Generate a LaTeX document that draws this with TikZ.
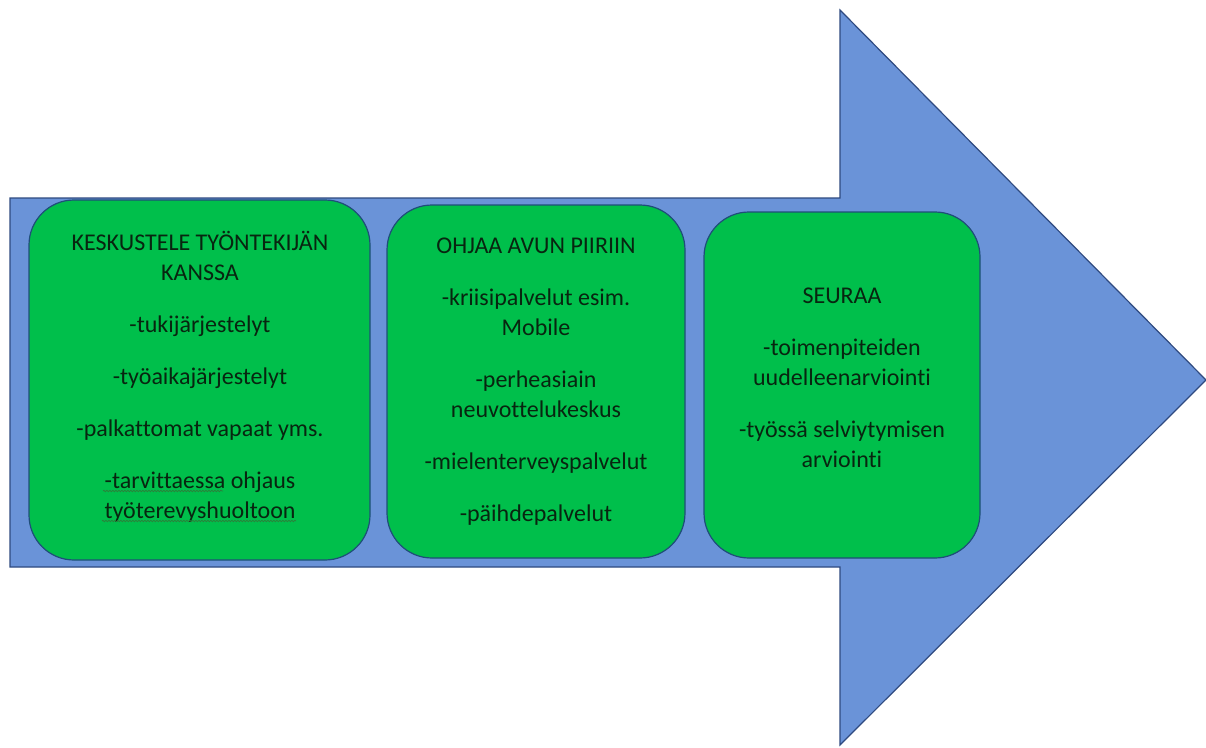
\documentclass[tikz,border=0pt]{standalone}
\usepackage{fontspec}
\setmainfont[Ligatures=NoCommon]{Carlito}
\usetikzlibrary{decorations.pathmorphing}
\definecolor{arrowfill}{HTML}{6A93D8}
\definecolor{arrowline}{HTML}{2F4A80}
\definecolor{boxfill}{HTML}{00BF4B}
\definecolor{boxline}{HTML}{1F4E79}
\definecolor{txt}{HTML}{082510}
\definecolor{wavecol}{HTML}{2E7D3A}
\begin{document}
\begin{tikzpicture}[x=1pt,y=-1pt,
  stepbox/.style={draw=boxline, line width=1.2pt, fill=boxfill, rounded corners=45pt, inner sep=0pt},
  boxtext/.style={text=txt, align=center, font=\fontsize{24}{30}\selectfont, inner sep=0pt},
  squiggle/.style={draw=wavecol, line width=0.7pt, decorate, decoration={snake, segment length=3pt, amplitude=0.7pt}}]
\useasboundingbox (0,0) rectangle (1206,747);
\fill[white] (0,0) rectangle (1206,747);
% arrow
\draw[fill=arrowfill, draw=arrowline, line width=1.2pt, line join=miter]
  (10,198) -- (840,198) -- (840,10) -- (1206,380) -- (840,745) -- (840,567) -- (10,567) -- cycle;
% boxes
\node[stepbox, minimum width=341pt, minimum height=360pt] (b1) at (199.5,380) {};
\node[stepbox, minimum width=298pt, minimum height=353pt] (b2) at (536,381.5) {};
\node[stepbox, minimum width=276pt, minimum height=346pt] (b3) at (842,385) {};
% texts
\node[boxtext] (t1) at (200,377) {KESKUSTELE TYÖNTEKIJÄN\\KANSSA\\[22pt]
  -tukijärjestelyt\\[22pt]
  -työaikajärjestelyt\\[22pt]
  -palkattomat vapaat yms.\\[22pt]
  -tarvittaessa ohjaus\\työterevyshuoltoon};
\node[boxtext] (t2) at (536,382) {OHJAA AVUN PIIRIIN\\[22pt]
  -kriisipalvelut esim.\\Mobile\\[22pt]
  -perheasiain\\neuvottelukeskus\\[22pt]
  -mielenterveyspalvelut\\[22pt]
  -päihdepalvelut};
\node[boxtext] (t3) at (842,378) {SEURAA\\[22pt]
  -toimenpiteiden\\uudelleenarviointi\\[22pt]
  -työssä selviytymisen\\arviointi};
% spell-check squiggles
\coordinate (s1a) at (103,491);
\coordinate (s1b) at (223,491);
\coordinate (s2a) at (102,521);
\coordinate (s2b) at (296,521);
\path[squiggle] (s1a) -- (s1b);
\path[squiggle] (s2a) -- (s2b);
\end{tikzpicture}
\end{document}
